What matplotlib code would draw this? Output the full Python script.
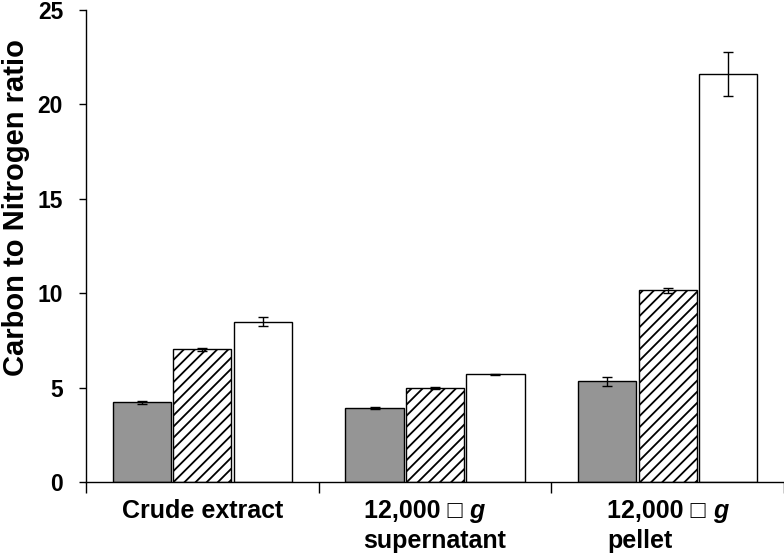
import matplotlib
matplotlib.use("Agg")
import matplotlib.pyplot as plt
import numpy as np

plt.rcParams['font.family'] = ['Liberation Sans', 'DejaVu Sans']
plt.rcParams['font.weight'] = 'bold'
plt.rcParams['hatch.linewidth'] = 1.3

categories = ["Crude extract", "12,000 \u25a1 g\nsupernatant", "12,000 \u25a1 g\npellet"]
series1 = [4.22, 3.92, 5.33]
series1_err = [0.07, 0.03, 0.25]
series2 = [7.02, 4.97, 10.15]
series2_err = [0.10, 0.04, 0.12]
series3 = [8.50, 5.70, 21.60]
series3_err = [0.25, 0.04, 1.15]
yticks = [0, 5, 10, 15, 20, 25]
ylabel = "Carbon to Nitrogen ratio"

DPI = 100
fig = plt.figure(figsize=(7.84, 5.57), dpi=DPI)
ax = fig.add_axes([86/784, 1-482/557, 698/784, 472/557])

x = np.arange(len(categories))
w = 0.25
step = 0.26
err_kw = dict(ecolor='black', elinewidth=1.0, capsize=3.5, capthick=1.0)
ax.bar(x - step, series1, w, yerr=series1_err, color='#959595', edgecolor='black', linewidth=1.0, error_kw=err_kw)
ax.bar(x, series2, w, yerr=series2_err, color='white', edgecolor='black', hatch='///', linewidth=1.0, error_kw=err_kw)
ax.bar(x + step, series3, w, yerr=series3_err, color='white', edgecolor='black', linewidth=1.0, error_kw=err_kw)

ax.set_xlim(-0.5, 2.5)
ax.set_ylim(0, 25)
ax.set_yticks(yticks)
ax.set_yticklabels([str(t) for t in yticks], fontsize=16.5, fontweight='bold')
ax.tick_params(axis='y', direction='out', length=5, width=1, pad=11.5)
ax.set_xticks(np.arange(len(categories) + 1) - 0.5)
ax.set_xticklabels([])
ax.tick_params(axis='x', direction='out', length=8, width=1)
for s in ['top', 'right']:
    ax.spines[s].set_visible(False)
for s in ['left', 'bottom']:
    ax.spines[s].set_linewidth(1.0)
ax.set_ylabel(ylabel, fontsize=21, fontweight='bold')
ax.yaxis.set_label_coords((30 - 86) / 698, (482 - 208) / 472)

# category labels (left-aligned block centred on the category, italic g)
renderer = fig.canvas.get_renderer()
fs = 18
def tw(s, **kw):
    t = fig.text(0, 0, s, fontsize=fs, fontweight='bold', **kw)
    wpx = t.get_window_extent(renderer).width
    t.remove()
    return wpx

px2pt = 72.0 / DPI
base1 = -36 * px2pt
base2 = -66 * px2pt
for i, cat in enumerate(categories):
    lines = cat.split("\n")
    if len(lines) == 1:
        ax.annotate(lines[0], xy=(i, 0), xycoords=('data', 'axes fraction'),
                    xytext=(0, base1), textcoords='offset points', ha='center', va='baseline',
                    fontsize=fs, fontweight='bold', annotation_clip=False)
        continue
    first, second = lines
    head = first[:-1]
    gchar = first[-1]
    w1 = tw(head) + tw(gchar, style='italic')
    w2 = tw(second)
    block = max(w1, w2)
    left = -block / 2 * px2pt
    t1 = ax.annotate(head, xy=(i, 0), xycoords=('data', 'axes fraction'),
                     xytext=(left, base1), textcoords='offset points', ha='left', va='baseline',
                     fontsize=fs, fontweight='bold', annotation_clip=False)
    ax.annotate(gchar, xy=(1, 0), xycoords=t1, ha='left', va='bottom',
                fontsize=fs, fontweight='bold', style='italic', annotation_clip=False)
    ax.annotate(second, xy=(i, 0), xycoords=('data', 'axes fraction'),
                xytext=(left, base2), textcoords='offset points', ha='left', va='baseline',
                fontsize=fs, fontweight='bold', annotation_clip=False)

fig.savefig("out.png", dpi=DPI)
